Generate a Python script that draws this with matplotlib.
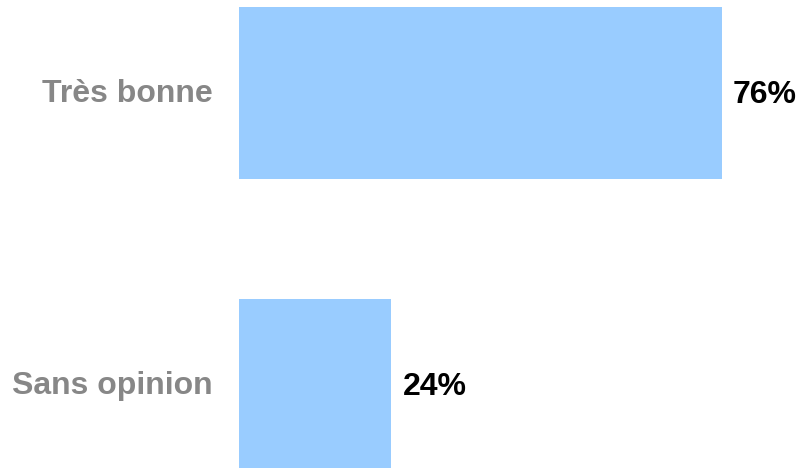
import numpy as np
import matplotlib.pyplot as plt

plt.rcParams['font.family'] = ['Liberation Sans', 'DejaVu Sans']

# catégories et pourcentages
categories = ['Très bonne', 'Sans opinion']
valeurs = [76, 24]

fig = plt.figure(figsize=(8.05, 4.68), dpi=100)
# axe placé en pixels : barres à partir de x=239
ax = fig.add_axes([239 / 805, 0, (805 - 239) / 805, 1])

px_par_pct = 6.35
ax.set_xlim(0, (805 - 239) / px_par_pct)

# centres des barres à 93 px et 385 px depuis le haut
pas = 292
ax.set_ylim((468 - 93) / pas, -93 / pas)

y = np.arange(len(categories))
ax.barh(y, valeurs, height=172 / pas, color='#99CCFF')

for yi, v in zip(y, valeurs):
    ax.annotate(f'{v}%', (v, yi), xytext=(11, -2), textcoords='offset pixels',
                ha='left', va='center', fontsize=23, fontweight='bold',
                color='black')

for yi, cat in zip(y, categories):
    ax.annotate(cat, (0, yi), xytext=(-26, -1), textcoords='offset pixels',
                ha='right', va='center', fontsize=23, fontweight='bold',
                color='#878787', annotation_clip=False)

ax.axis('off')
fig.savefig('out.png', dpi=100)
